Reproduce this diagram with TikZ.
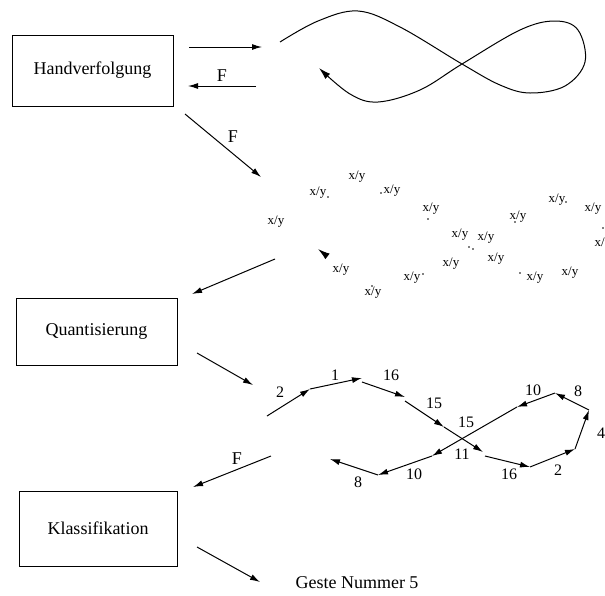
\documentclass[tikz,border=0pt]{standalone}
\usepackage{fontspec}
\setmainfont{Liberation Serif}
\usetikzlibrary{arrows.meta}
\tikzset{
  stage/.style={draw, line width=0.9pt, inner sep=0pt, font=\fontsize{18}{20}\selectfont},
  flow/.style={line width=1pt, -{Latex[length=10pt,width=6pt]}},
  lbl/.style={font=\fontsize{18}{20}\selectfont, inner sep=0pt},
  num/.style={font=\fontsize{16}{18}\selectfont, inner sep=0pt},
  pt/.style={font=\fontsize{13}{15}\selectfont, inner sep=0pt},
  dotmark/.style={fill=black, radius=0.8pt},
}
\begin{document}
\begin{tikzpicture}[x=1pt, y=-1pt]
\useasboundingbox (0,0) rectangle (605,595);

% processing stages
\node[stage, minimum width=161pt, minimum height=71pt] (hand) at (92.5,70.5) {Handverfolgung};
\node[stage, minimum width=161pt, minimum height=67pt] (quant) at (96.5,331.5) {Quantisierung};
\node[stage, minimum width=158pt, minimum height=75pt] (klass) at (98,528.5) {Klassifikation};

% arrows between stages and data
\coordinate (h1a) at (189,47);  \coordinate (h1b) at (262,47);
\coordinate (h2a) at (256,86);  \coordinate (h2b) at (188,86);
\coordinate (h3a) at (185,114); \coordinate (h3b) at (261,177);
\coordinate (p1a) at (275,259); \coordinate (p1b) at (192,294);
\coordinate (qa)  at (197,353); \coordinate (qb)  at (253,385);
\coordinate (fa)  at (271,456); \coordinate (fb)  at (193,487);
\coordinate (ka)  at (197,547); \coordinate (kb)  at (260,582);
\draw[flow] (h1a) -- (h1b);
\draw[flow] (h2a) -- (h2b);
\draw[flow] (h3a) -- (h3b);
\draw[flow] (p1a) -- (p1b);
\draw[flow] (qa) -- (qb);
\draw[flow] (fa) -- (fb);
\draw[flow] (ka) -- (kb);
\node[lbl] (fl1) at (222,76) {F};
\node[lbl] (fl2) at (233,137) {F};
\node[lbl] (fl3) at (237,459) {F};
\node[lbl] (result) at (357,583) {Geste Nummer 5};

% tracked hand trajectory
\draw[line width=1pt, -{Latex[length=12pt,width=7pt]}]
  plot[smooth, tension=0.6] coordinates {
    (280,42) (318,21) (358,11) (400,27) (462,64) (500,85) (530,93)
    (565,86) (585,62) (578,30) (555,21) (520,30) (462,64) (420,90)
    (378,102) (350,94) (319,68)};

% sampled positions
\foreach \px/\py [count=\i] in {357/177, 318/193, 392/191, 276/222, 431/209,
    460/235, 486/238, 451/264, 496/259, 341/270, 412/278, 373/293, 518/217,
    557/200, 593/209, 603/244, 535/278, 570/273}
  \node[pt] (s\i) at (\px,\py) {x/y};
\foreach \px/\py in {328/197, 381/193, 428/219, 469/247, 473/249, 423/274,
    372/286, 515/222, 566/202, 603/228, 520/273}
  \fill (\px,\py) circle[dotmark];
\coordinate (ta) at (327,256); \coordinate (tb) at (318,249);
\draw[line width=1pt, -{Latex[length=12pt,width=7pt]}] (ta) -- (tb);

% quantised direction codes
\coordinate (q0) at (267,416);
\coordinate (q1) at (310,389);
\coordinate (q2) at (362,378);
\coordinate (q2b) at (362,382);
\coordinate (q3) at (405,397);
\coordinate (q3b) at (405,401);
\coordinate (q4) at (444,427);
\coordinate (q5) at (483,452);
\coordinate (q5b) at (485,456);
\coordinate (q6) at (530,467);
\coordinate (q7) at (575,449);
\coordinate (q8) at (589,410);
\coordinate (q9) at (555,393);
\coordinate (q10) at (517,407);
\coordinate (q11) at (432,456);
\coordinate (q12) at (378,475);
\coordinate (q13) at (330,459);
\draw[flow] (q0) -- (q1);
\draw[flow] (q1) -- (q2);
\draw[flow] (q2b) -- (q3);
\draw[flow] (q3b) -- (q4);
\draw[flow] (q4) -- (q5);
\draw[flow] (q5b) -- (q6);
\draw[flow] (q6) -- (q7);
\draw[flow] (q7) -- (q8);
\draw[flow] (q8) -- (q9);
\draw[flow] (q9) -- (q10);
\draw[flow] (q10) -- (q11);
\draw[flow] (q11) -- (q12);
\draw[flow] (q12) -- (q13);
\node[num] (c1) at (280,392) {2};
\node[num] (c2) at (335,375) {1};
\node[num] (c3) at (391,375) {16};
\node[num] (c4) at (434,403) {15};
\node[num] (c5) at (466,422) {15};
\node[num] (c6) at (509,474) {16};
\node[num] (c7) at (558,470) {2};
\node[num] (c8) at (601,433) {4};
\node[num] (c9) at (578,391) {8};
\node[num] (c10) at (533,390) {10};
\node[num] (c11) at (462,454) {11};
\node[num] (c12) at (414,474) {10};
\node[num] (c13) at (358,482) {8};
\end{tikzpicture}
\end{document}
